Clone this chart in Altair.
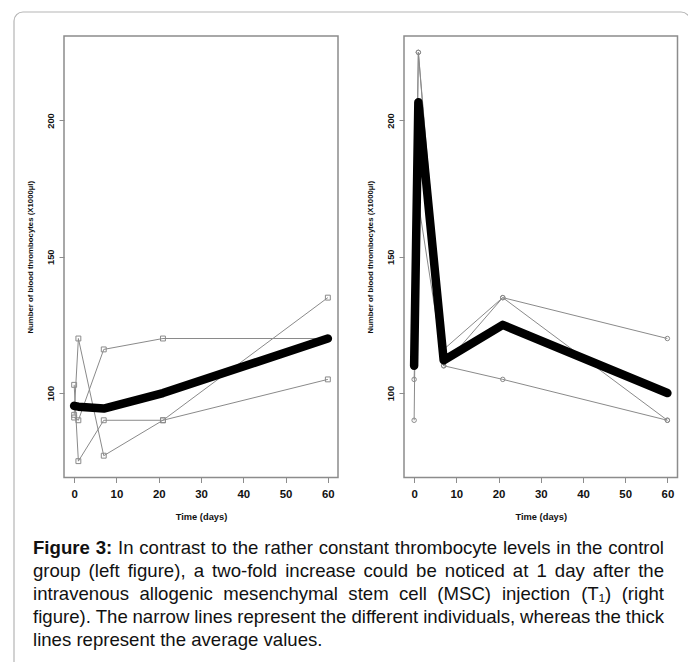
import altair as alt
import pandas as pd

# ---------------- data ----------------
days = [0, 1, 7, 21, 60]
ctrl_a = [92, 120, 77, 90, 135]
ctrl_b = [103, 75, 90, 90, 105]
ctrl_c = [91, 90, 116, 120, 120]
ctrl_mean = [95.3, 95.0, 94.3, 100.0, 120.0]
msc_a = [90, 225, 110, 135, 120]
msc_b = [105, 170, 110, 105, 90]
msc_c = [135, 225, 116, 135, 90]
msc_mean = [110.0, 206.7, 112.0, 125.0, 100.0]
x_ticks = [0, 10, 20, 30, 40, 50, 60]
y_ticks = [100, 150, 200]
x_limits = [-2.4, 62.4]
y_limits = [69, 231]
x_title = "Time (days)"
y_title = "Number of blood thrombocytes (X1000µl)"
caption_lines = [
    "Figure 3: In contrast to the rather constant thrombocyte levels in the control",
    "group (left figure), a two-fold increase could be noticed at 1 day after the",
    "intravenous allogenic mesenchymal stem cell (MSC) injection (T₁) (right",
    "figure). The narrow lines represent the different individuals, whereas the thick",
    "lines represent the average values.",
]
bold_words = ["Figure", "3:"]

# ---------------- layout / style ----------------
W, H = 680, 654
Y_TOP, Y_BOTTOM = 28, 469.5
LEFT_X = [56, 330]
RIGHT_X = [396, 669.5]
GRAY = "#8a8a8a"
FRAME = "#8c8c8c"
FONT = "Liberation Sans"
CAP_SIZE = 18.6
CAP_LEFT, CAP_RIGHT = 25, 656
CAP_Y0, CAP_DY = 540, 23


def long_df(series):
    rows = []
    for k, vals in enumerate(series):
        for d, v in zip(days, vals):
            rows.append({"day": d, "value": v, "ind": k})
    return pd.DataFrame(rows)


frame_df = pd.DataFrame({"x0": [x_limits[0]], "x1": [x_limits[1]],
                         "y0": [y_limits[0]], "y1": [y_limits[1]]})


def panel(indiv, mean, shape, size, xr):
    xs = alt.Scale(domain=x_limits, range=xr, nice=False, zero=False)
    ys = alt.Scale(domain=y_limits, range=[Y_BOTTOM, Y_TOP], nice=False, zero=False)
    xax = alt.Axis(orient="bottom", offset=Y_BOTTOM - H, values=x_ticks, domain=False,
                   grid=False, tickSize=5, tickColor=FRAME, tickWidth=1,
                   labelFont=FONT, labelFontWeight="bold", labelFontSize=11.4,
                   labelColor="#111", labelPadding=6, labelBaseline="top",
                   title=x_title, titleFont=FONT, titleFontWeight="bold",
                   titleFontSize=9.3, titleColor="#111", titleBaseline="middle",
                   titleX=(xr[0] + xr[1]) / 2, titleY=38.5, titleAnchor="middle")
    yax = alt.Axis(orient="left", offset=-xr[0], values=y_ticks, domain=False,
                   grid=False, tickSize=5, tickColor=FRAME, tickWidth=1,
                   labelFont=FONT, labelFontWeight="bold", labelFontSize=9.4,
                   labelColor="#111", labelAngle=270, labelAlign="center",
                   labelBaseline="bottom", labelPadding=3.5,
                   title=y_title, titleFont=FONT, titleFontWeight="bold",
                   titleFontSize=7.8, titleColor="#111", titleAngle=270,
                   titleAlign="center", titleBaseline="middle",
                   titleX=-34, titleY=(Y_TOP + Y_BOTTOM) / 2)
    X = alt.X("day:Q", scale=xs, axis=xax)
    Y = alt.Y("value:Q", scale=ys, axis=yax)
    frame = alt.Chart(frame_df).mark_rect(fillOpacity=0, stroke=FRAME, strokeWidth=1.5).encode(
        x=alt.X("x0:Q", scale=xs, axis=xax), x2="x1:Q",
        y=alt.Y("y0:Q", scale=ys, axis=yax), y2="y1:Q")
    thin = alt.Chart(indiv).mark_line(color=GRAY, strokeWidth=1).encode(x=X, y=Y, detail="ind:N")
    pts = alt.Chart(indiv).mark_point(shape=shape, size=size, color=GRAY, strokeWidth=1,
                                      filled=False, opacity=1).encode(x=X, y=Y)
    thick = alt.Chart(mean).mark_line(color="black", strokeWidth=8.5, strokeCap="round",
                                      strokeJoin="round").encode(x=X, y=Y)
    return alt.layer(frame, thin, pts, thick)


left = panel(long_df([ctrl_a, ctrl_b, ctrl_c]),
             pd.DataFrame({"day": days, "value": ctrl_mean}), "square", 24, LEFT_X)
right = panel(long_df([msc_a, msc_b, msc_c]),
              pd.DataFrame({"day": days, "value": msc_mean}), "circle", 20, RIGHT_X)

# ---------------- justified caption ----------------
REG = {}
for chars, w in [("abdeghnopqu", 556), ("ckszvxy", 500), ("fjt", 278), ("il", 222),
                 ("m", 833), ("r", 333), ("w", 722), ("0123456789", 556),
                 (" ,.:", 278), ("()-", 333), ("ABEKPSVXY", 667), ("CDHNRU", 722),
                 ("FTZ", 611), ("GOQ", 778), ("I", 278), ("J", 500), ("L", 556),
                 ("M", 833), ("W", 944), ("₁", 350)]:
    for ch in chars:
        REG[ch] = w
BOLD = dict(REG)
for chars, w in [("gu", 611), ("i", 278), ("r", 389), (":", 333)]:
    for ch in chars:
        BOLD[ch] = w


def wwidth(word, bold):
    t = BOLD if bold else REG
    return sum(t.get(ch, 556) for ch in word) / 1000 * CAP_SIZE


rows = []
for li, line in enumerate(caption_lines):
    words = line.split(" ")
    flags = [(li == 0 and k < 2 and w in bold_words) for k, w in enumerate(words)]
    widths = [wwidth(w, b) for w, b in zip(words, flags)]
    if li < len(caption_lines) - 1:
        gap = (CAP_RIGHT - CAP_LEFT - sum(widths)) / (len(words) - 1)
    else:
        gap = 0.278 * CAP_SIZE
    x = CAP_LEFT
    for w, b, wd in zip(words, flags, widths):
        rows.append({"w": w, "x": x + wd / 2, "y": CAP_Y0 + li * CAP_DY, "bold": b})
        x += wd + gap
cap_df = pd.DataFrame(rows)

cap_reg = alt.Chart(cap_df[~cap_df["bold"]]).mark_text(
    font=FONT, fontSize=CAP_SIZE, color="#111", align="center", baseline="middle").encode(
    x=alt.X("x:Q", scale=None, axis=None), y=alt.Y("y:Q", scale=None, axis=None), text="w:N")
cap_bold = alt.Chart(cap_df[cap_df["bold"]]).mark_text(
    font=FONT, fontSize=CAP_SIZE, fontWeight="bold", color="#111", align="center",
    baseline="middle").encode(
    x=alt.X("x:Q", scale=None, axis=None), y=alt.Y("y:Q", scale=None, axis=None), text="w:N")

border = alt.Chart(pd.DataFrame({"a": [0]})).mark_rect(
    fillOpacity=0, stroke="#b5b5b5", strokeWidth=1.2, cornerRadius=9).encode(
    x=alt.value(6), x2=alt.value(682), y=alt.value(4), y2=alt.value(700))

chart = alt.layer(border, left, right, cap_reg, cap_bold).resolve_scale(
    x="independent", y="independent").properties(
    width=W, height=H, padding=0,
    autosize=alt.AutoSizeParams(type="none")).configure_view(stroke=None)

chart.save("out.html", embed_options={"renderer": "svg", "actions": False})
